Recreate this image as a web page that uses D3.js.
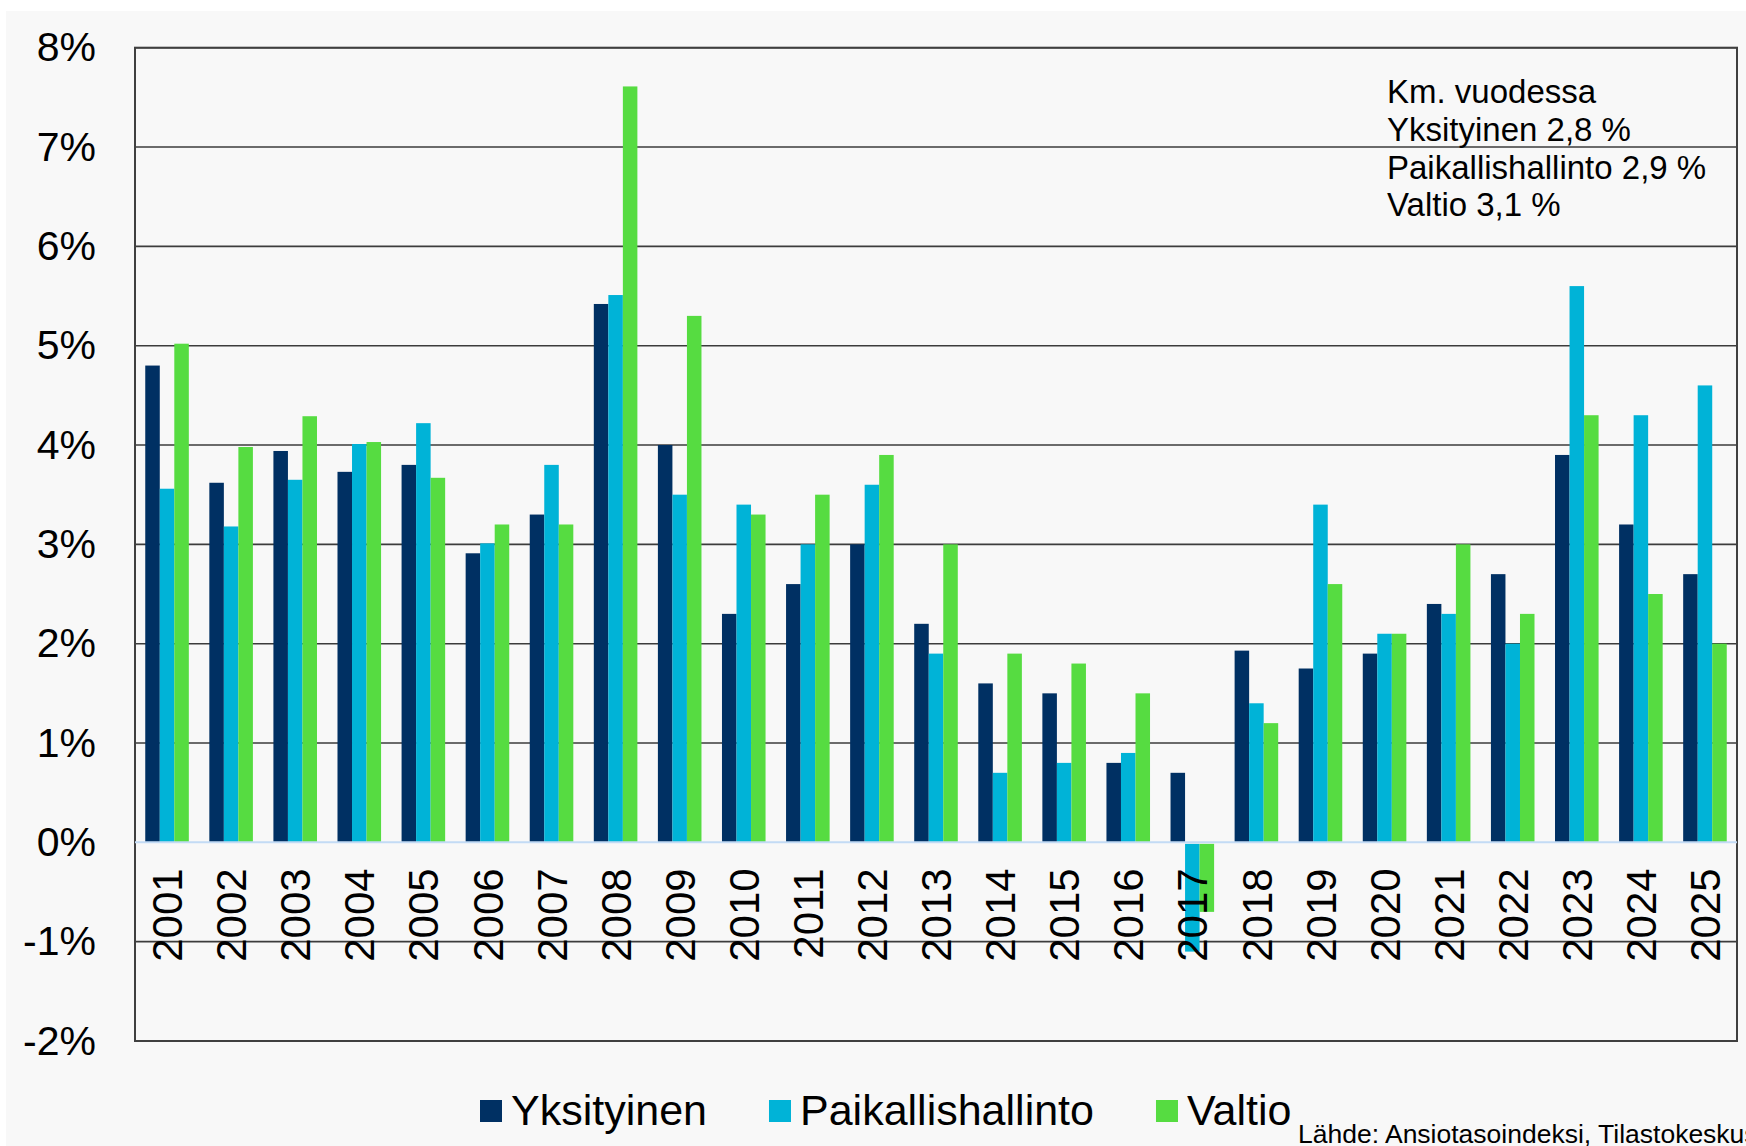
<!DOCTYPE html>
<html>
<head>
<meta charset="utf-8">
<script src="https://cdn.jsdelivr.net/npm/d3@7/dist/d3.min.js"></script>
<style>
  html, body { margin: 0; padding: 0; background: #ffffff; }
  svg { display: block; }
  text { font-family: "Liberation Sans", Arial, sans-serif; fill: #000; }
</style>
</head>
<body>
<svg id="chart" width="1746" height="1146"></svg>
<script>
const years = ["2001","2002","2003","2004","2005","2006","2007","2008","2009","2010","2011","2012","2013","2014","2015","2016","2017","2018","2019","2020","2021","2022","2023","2024","2025"];
const seriesNames = ["Yksityinen", "Paikallishallinto", "Valtio"];
const yksityinen = [4.8, 3.62, 3.94, 3.73, 3.8, 2.91, 3.3, 5.42, 4.0, 2.3, 2.6, 3.0, 2.2, 1.6, 1.5, 0.8, 0.7, 1.93, 1.75, 1.9, 2.4, 2.7, 3.9, 3.2, 2.7];
const paikallishallinto = [3.56, 3.18, 3.65, 4.01, 4.22, 3.01, 3.8, 5.51, 3.5, 3.4, 3.0, 3.6, 1.9, 0.7, 0.8, 0.9, -1.1, 1.4, 3.4, 2.1, 2.3, 2.0, 5.6, 4.3, 4.6];
const valtio = [5.02, 3.98, 4.29, 4.03, 3.67, 3.2, 3.2, 7.61, 5.3, 3.3, 3.5, 3.9, 3.0, 1.9, 1.8, 1.5, -0.7, 1.2, 2.6, 2.1, 3.0, 2.3, 4.3, 2.5, 2.0];
const yTicks = [-2, -1, 0, 1, 2, 3, 4, 5, 6, 7, 8];
const annotationLines = ["Km. vuodessa", "Yksityinen 2,8 %", "Paikallishallinto 2,9 %", "Valtio 3,1 %"];
const sourceText = "Lähde: Ansiotasoindeksi, Tilastokeskus";
const colors = ["#003063", "#00b3d7", "#56dc41"];

const seriesValues = [yksityinen, paikallishallinto, valtio];

const svg = d3.select("#chart");
const W = 1746, H = 1146;

// background
svg.append("rect").attr("x", 6).attr("y", 11).attr("width", W - 6).attr("height", H - 11).attr("fill", "#f8f8f8");

const plot = { left: 135, right: 1737, top: 47.7, bottom: 1041 };

const x = d3.scaleBand().domain(years).range([plot.left, plot.right]).paddingInner(0).paddingOuter(0);
const groupW = x.bandwidth() * 0.68;
const xs = d3.scaleBand().domain(seriesNames).range([0, groupW]).padding(0);
const y = d3.scaleLinear().domain([-2, 8]).range([plot.bottom, plot.top]);

// gridlines
svg.append("g").selectAll("line").data(yTicks.filter(t => t !== 0)).join("line")
  .attr("x1", plot.left).attr("x2", plot.right)
  .attr("y1", d => y(d)).attr("y2", d => y(d))
  .attr("stroke", "#3c3c3c").attr("stroke-width", 1.6);

// plot border
svg.append("rect").attr("x", plot.left).attr("y", plot.top)
  .attr("width", plot.right - plot.left).attr("height", plot.bottom - plot.top)
  .attr("fill", "none").attr("stroke", "#404040").attr("stroke-width", 2);

// bars
const barsG = svg.append("g");
seriesNames.forEach((name, si) => {
  barsG.append("g").selectAll("rect").data(years.map((yr, i) => ({ yr, v: seriesValues[si][i] }))).join("rect")
    .attr("x", d => x(d.yr) + (x.bandwidth() - groupW) / 2 + xs(name))
    .attr("width", xs.bandwidth())
    .attr("y", d => d.v >= 0 ? y(d.v) : y(0) + 1.5)
    .attr("height", d => d.v >= 0 ? y(0) - y(d.v) : y(d.v) - y(0) - 1.5)
    .attr("fill", colors[si]);
});

// zero line
svg.append("line").attr("x1", plot.left).attr("x2", plot.right)
  .attr("y1", y(0)).attr("y2", y(0))
  .attr("stroke", "#c3dbf5").attr("stroke-width", 2);

// y axis labels
const yAxis = d3.axisLeft(y).tickValues(yTicks).tickFormat(d => d + "%").tickSize(0).tickPadding(39);
const yg = svg.append("g").attr("transform", `translate(${plot.left},0)`).call(yAxis);
yg.select(".domain").remove();
yg.selectAll("text").attr("font-size", 41).attr("font-family", "'Liberation Sans', Arial, sans-serif").attr("fill", "#000");

// x axis labels (rotated)
svg.append("g").selectAll("text").data(years).join("text")
  .attr("transform", d => `translate(${x(d) + x.bandwidth() / 2},${y(0) + 26}) rotate(-90)`)
  .attr("text-anchor", "end")
  .attr("dy", "0.36em")
  .attr("font-size", 42)
  .text(d => d);

// annotation
const ann = svg.append("text").attr("x", 1387).attr("y", 103).attr("font-size", 33);
annotationLines.forEach((t, i) => {
  ann.append("tspan").attr("x", 1387).attr("y", 103 + i * 37.8).text(t);
});

// legend
const leg = svg.append("g");
let lx = 480;
seriesNames.forEach((name, i) => {
  leg.append("rect").attr("x", lx).attr("y", 1100).attr("width", 22).attr("height", 22).attr("fill", colors[i]);
  const t = leg.append("text").attr("x", lx + 31).attr("y", 1125).attr("font-size", 43).text(name);
  lx = lx + 31 + t.node().getComputedTextLength() + 62;
});

// source
svg.append("text").attr("x", 1298).attr("y", 1143).attr("font-size", 26.5).text(sourceText);
</script>
</body>
</html>
